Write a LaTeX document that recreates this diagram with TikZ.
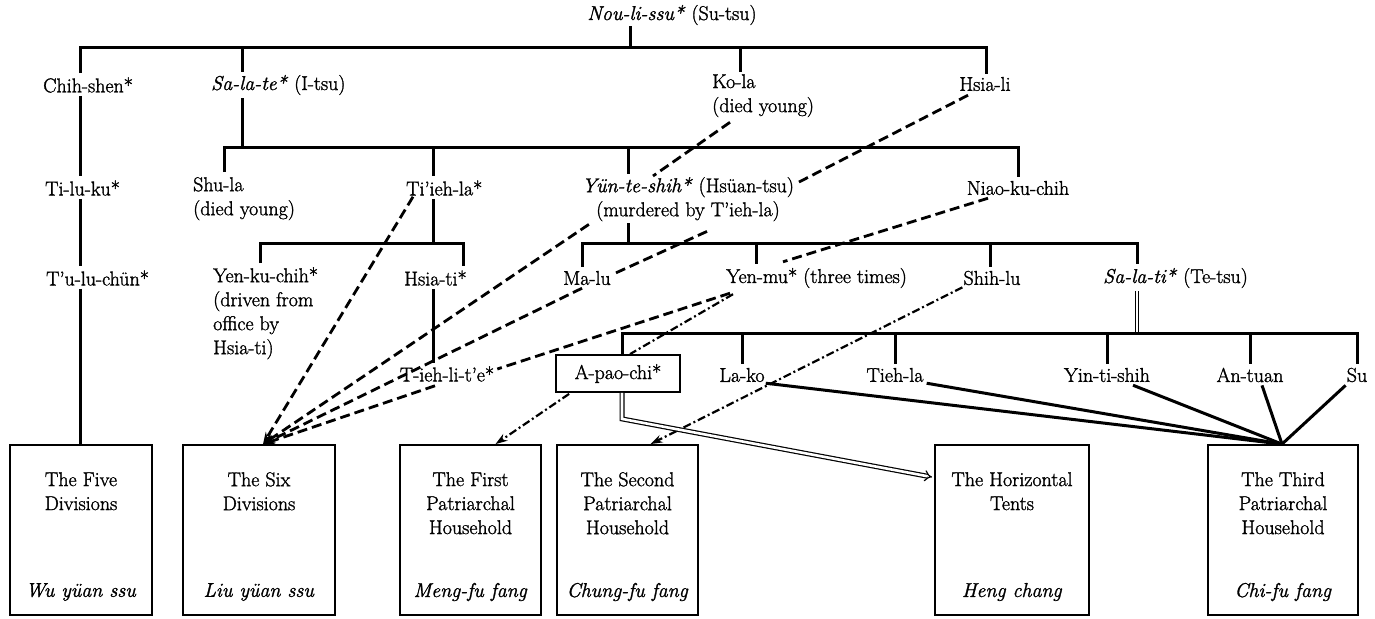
\documentclass[tikz,border=0pt]{standalone}
\usepackage{fontspec}
\setmainfont{Latin Modern Roman}[FakeBold=1.4]
\usetikzlibrary{arrows.meta,calc}
\begin{document}
\begin{tikzpicture}[x=1pt,y=-1pt,
  lbl/.style={inner sep=1pt, font=\fontsize{20}{24}\selectfont},
  tree/.style={line width=3pt},
  dsh/.style={line width=2.8pt, dash pattern=on 10pt off 5pt},
  dshdot/.style={line width=2.2pt, dash pattern=on 8pt off 3pt on 2pt off 3pt},
  arr/.style={-{Stealth[length=12pt,width=8pt]}},
  unitbox/.style={draw, line width=1.8pt, minimum width=#1, minimum height=170pt, inner sep=0pt},
  solidln/.style={line width=3pt}
]
\useasboundingbox (0,0) rectangle (1375,618);

% ---------- labels ----------
\node[lbl] (nou) at (672,15) {\textit{Nou-li-ssu*} (Su-tsu)};
\node[lbl,anchor=west] (chihshen) at (42,85) {Chih-shen*};
\node[lbl,anchor=west] (salate) at (210,85) {\textit{Sa-la-te*} (I-tsu)};
\node[lbl,anchor=north west,align=left] (kola) at (711,73) {Ko-la\\(died young)};
\node[lbl] (hsiali) at (985,84) {Hsia-li};

\node[lbl,anchor=west] (tiluku) at (44,188) {Ti-lu-ku*};
\node[lbl,anchor=north west,align=left] (shula) at (192,176) {Shu-la\\(died young)};
\node[lbl,anchor=west] (tiehla) at (405,188) {Ti'ieh-la*};
\node[lbl,anchor=north,align=center] (yun) at (688,176) {\textit{Yün-te-shih*} (Hsüan-tsu)\\(murdered by T'ieh-la)};
\node[lbl] (niao) at (1018,188) {Niao-ku-chih};

\node[lbl,anchor=west] (tulu) at (45,278) {T'u-lu-chün*};
\node[lbl,anchor=north west,align=left] (yenku) at (212,266) {Yen-ku-chih*\\(driven from\\office by\\Hsia-ti)};
\node[lbl,anchor=west] (hsiati) at (403,278) {Hsia-ti*};
\node[lbl] (malu) at (587,278) {Ma-lu};
\node[lbl,anchor=west] (yenmu) at (725,278) {Yen-mu* (three times)};
\node[lbl] (shihlu) at (992,278) {Shih-lu};
\node[lbl,anchor=west] (salati) at (1102,278) {\textit{Sa-la-ti*} (Te-tsu)};

\node[lbl] (tiehlite) at (447,374) {T-ieh-li-t'e*};
\node[lbl,draw,line width=1.8pt,minimum width=124pt,minimum height=37pt] (apaochi) at (618,373.5) {A-pao-chi*};
\node[lbl] (lako) at (742,375) {La-ko};
\node[lbl] (tiehlb) at (895,375) {Tieh-la};
\node[lbl] (yinti) at (1107,375) {Yin-ti-shih};
\node[lbl] (antuan) at (1250,375) {An-tuan};
\node[lbl] (su) at (1357,375) {Su};

% ---------- unit boxes ----------
\node[unitbox=142pt] (b1) at (81,530) {};
\node[unitbox=152pt] (b2) at (259,530) {};
\node[unitbox=141pt] (b3) at (470.5,530) {};
\node[unitbox=141pt] (b4) at (627.5,530) {};
\node[unitbox=154pt] (b5) at (1012,530) {};
\node[unitbox=150pt] (b6) at (1283,530) {};

\node[lbl,anchor=north,align=center] (b1t) at (81,471) {The Five\\Divisions};
\node[lbl,anchor=north,align=center] (b2t) at (259,471) {The Six\\Divisions};
\node[lbl,anchor=north,align=center] (b3t) at (470.5,471) {The First\\Patriarchal\\Household};
\node[lbl,anchor=north,align=center] (b4t) at (627.5,471) {The Second\\Patriarchal\\Household};
\node[lbl,anchor=north,align=center] (b5t) at (1012,471) {The Horizontal\\Tents};
\node[lbl,anchor=north,align=center] (b6t) at (1283,471) {The Third\\Patriarchal\\Household};

\node[lbl] (b1i) at (81,592) {\textit{Wu yüan ssu}};
\node[lbl] (b2i) at (259,592) {\textit{Liu yüan ssu}};
\node[lbl] (b3i) at (470.5,592) {\textit{Meng-fu fang}};
\node[lbl] (b4i) at (627.5,592) {\textit{Chung-fu fang}};
\node[lbl] (b5i) at (1012,592) {\textit{Heng chang}};
\node[lbl] (b6i) at (1283,592) {\textit{Chi-fu fang}};

% ---------- tree ----------
\coordinate (J0) at (630,48);
\coordinate (B1L) at (80,48);
\coordinate (B1a) at (242,48);
\coordinate (B1b) at (740,48);
\coordinate (B1R) at (986,48);
\draw[tree] (J0 |- nou.south) -- (J0);
\draw[tree] ($(chihshen.north -| B1L)+(0,-3)$) -- (B1L) -- (B1R) -- ($(hsiali.north -| B1R)+(0,-2)$);
\draw[tree] (B1a) -- ($(salate.north -| B1a)+(0,-2)$);
\draw[tree] (B1b) -- ($(kola.north -| B1b)+(0,-1)$);

\draw[tree] ($(chihshen.south -| B1L)+(0,2)$) -- ($(tiluku.north -| B1L)+(0,-3)$);
\draw[tree] ($(tiluku.south -| B1L)+(0,2)$) -- ($(tulu.north -| B1L)+(0,-3)$);
\draw[tree] ($(tulu.south -| B1L)+(0,2)$) -- (B1L |- b1.north);

\coordinate (B2L) at (224,147);
\coordinate (B2a) at (433,147);
\coordinate (B2b) at (628,147);
\coordinate (B2R) at (1018,147);
\draw[tree] ($(salate.south -| B1a)+(0,2)$) -- (B1a |- B2L);
\draw[tree] ($(shula.north -| B2L)+(0,-4)$) -- (B2L) -- (B2R) -- ($(niao.north -| B2R)+(0,-3)$);
\draw[tree] (B2a) -- ($(tiehla.north -| B2a)+(0,-3)$);
\draw[tree] (B2b) -- ($(yun.north -| B2b)+(0,-2)$);

\coordinate (B3L) at (260,243);
\coordinate (B3R) at (463,243);
\draw[tree] ($(tiehla.south -| B2a)+(0,2)$) -- (B2a |- B3L);
\draw[tree] ($(yenku.north -| B3L)+(0,-3)$) -- (B3L) -- (B3R) -- ($(hsiati.north -| B3R)+(0,-3)$);
\draw[tree] ($(hsiati.south -| B2a)+(0,2)$) -- ($(tiehlite.north -| B2a)+(0,-2)$);

\coordinate (B4L) at (582,243);
\coordinate (B4a) at (756,243);
\coordinate (B4b) at (990,243);
\coordinate (B4R) at (1137,243);
\draw[tree] ($(yun.south -| B2b)+(0,1)$) -- (B2b |- B4L);
\draw[tree] ($(malu.north -| B4L)+(0,-3)$) -- (B4L) -- (B4R) -- ($(salati.north -| B4R)+(0,-3)$);
\draw[tree] (B4a) -- ($(yenmu.north -| B4a)+(0,-3)$);
\draw[tree] (B4b) -- ($(shihlu.north -| B4b)+(0,-3)$);

\coordinate (B5L) at (622,333);
\coordinate (B5R) at (1357,333);
\draw[double,double distance=2.4pt,line width=1.2pt] ($(salati.south -| B4R)+(0,2)$) -- (B4R |- B5L);
\draw[tree] (apaochi.north -| B5L) -- (B5L) -- (B5R) -- ($(su.north -| B5R)+(0,-3)$);
\draw[tree] (B5L -| lako) -- ($(lako.north)+(0,-3)$);
\draw[tree] (B5L -| tiehlb) -- ($(tiehlb.north)+(0,-3)$);
\draw[tree] (B5L -| yinti) -- ($(yinti.north)+(0,-3)$);
\draw[tree] (B5L -| antuan) -- ($(antuan.north)+(0,-3)$);

% ---------- dashed succession lines ----------
\draw[dsh] ($(kola.south west)+(19,4)$) -- ($(yun.north)+(-35,0)$);
\draw[dsh] ($(hsiali.south)+(-17,3)$) -- ($(yun.north east)+(0,8)$);
\draw[dsh] ($(yun.south)+(19,9)$) -- ($(malu.north east)+(2,4)$);
\draw[dsh] ($(niao.south)+(-30,2)$) -- ($(yenmu.north west)+(58,-5)$);
\draw[dsh] ($(yenmu.south west)+(5,4)$) -- ($(tiehlite.east)+(2,-5)$);

\draw[dsh,arr] ($(tiehla.south west)+(8,0)$) -- ($(b2.north)+(4,0)$);
\draw[dsh,arr] ($(yun.south west)+(8,2)$) -- ($(b2.north)+(4,0)$);
\draw[dsh,arr] ($(malu.south)+(-5,2)$) -- ($(b2.north)+(4,0)$);
\draw[dsh,arr] ($(tiehlite.south)+(-12,3)$) -- ($(b2.north)+(4,0)$);

% ---------- dash-dot lines ----------
\draw[dshdot] ($(yenmu.south west)+(8,5)$) -- ($(apaochi.north)+(12,0)$);
\draw[dshdot,arr] ($(shihlu.south west)+(0,1)$) -- ($(b4.north)+(23,0)$);
\draw[dshdot,arr] ($(apaochi.south west)+(14,1)$) -- ($(b3.north)+(25,0)$);

% ---------- double line ----------
\draw[double,double distance=2.6pt,line width=1.2pt,-{Implies[length=9pt]}]
  (apaochi.south -| B5L) -- ($(apaochi.south -| B5L)+(0,26)$) -- ($(b5.north west)+(-2,33)$);

% ---------- solid lines to Third Patriarchal Household ----------
\draw[solidln] (lako.south east) -- ($(b6.north)+(-1,0)$);
\draw[solidln] ($(tiehlb.south east)+(2,0)$) -- ($(b6.north)+(-1,0)$);
\draw[solidln] ($(yinti.south)+(26,2)$) -- ($(b6.north)+(-1,0)$);
\draw[solidln] ($(antuan.south)+(12,2)$) -- ($(b6.north)+(-1,0)$);
\draw[solidln] ($(su.south west)+(0,2)$) -- ($(b6.north)+(-1,0)$);
\end{tikzpicture}
\end{document}
